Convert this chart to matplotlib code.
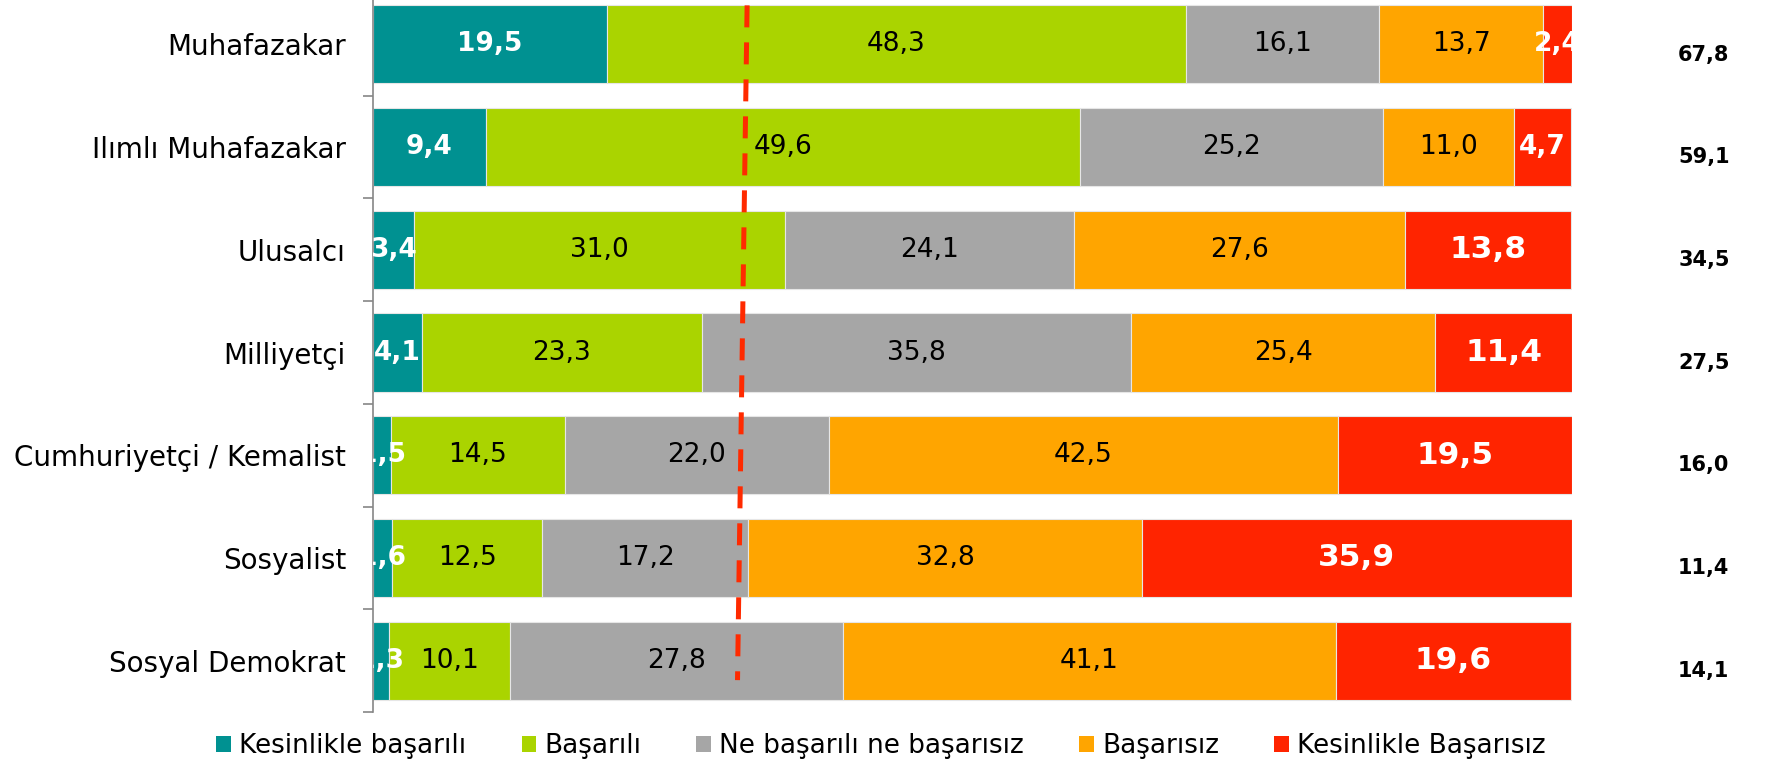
import matplotlib
matplotlib.use("Agg")
import matplotlib.pyplot as plt
from matplotlib.patches import Patch
from matplotlib.transforms import blended_transform_factory
import numpy as np

plt.rcParams['font.family'] = ['DejaVu Sans']

categories = ["Muhafazakar", "Ilımlı Muhafazakar", "Ulusalcı", "Milliyetçi",
              "Cumhuriyetçi / Kemalist", "Sosyalist", "Sosyal Demokrat"]
series_names = ["Kesinlikle başarılı", "Başarılı", "Ne başarılı ne başarısız",
                "Başarısız", "Kesinlikle Başarısız"]
kesinlikle_basarili = [19.5, 9.4, 3.4, 4.1, 1.5, 1.6, 1.3]
basarili = [48.3, 49.6, 31.0, 23.3, 14.5, 12.5, 10.1]
ne_ne = [16.1, 25.2, 24.1, 35.8, 22.0, 17.2, 27.8]
basarisiz = [13.7, 11.0, 27.6, 25.4, 42.5, 32.8, 41.1]
kesinlikle_basarisiz = [2.4, 4.7, 13.8, 11.4, 19.5, 35.9, 19.6]
toplam_basarili = [67.8, 59.1, 34.5, 27.5, 16.0, 11.4, 14.1]
ref_line_x = [31.2, 30.4]  # top, bottom of the dashed reference line

colors = ["#009191", "#aad400", "#a6a6a6", "#ffa500", "#ff2400"]
label_colors = ["white", "black", "black", "black", "white"]

series = [kesinlikle_basarili, basarili, ne_ne, basarisiz, kesinlikle_basarisiz]

fig = plt.figure(figsize=(17.9, 7.64), dpi=100)
ax = fig.add_axes([0.2084, 0.0681, 0.6698, 0.941])

y = np.arange(len(categories))
bar_h = 0.76
left = np.zeros(len(categories))
for i, vals in enumerate(series):
    vals = np.array(vals)
    ax.barh(y, vals, left=left, height=bar_h, color=colors[i],
            edgecolor="#e6e6e6", linewidth=0.8, zorder=2)
    for j, v in enumerate(vals):
        cx = left[j] + v / 2
        txt = f"{v:.1f}".replace(".", ",")
        if i == 0:
            fs, fw = 19, "bold"
        elif i == 4:
            fs, fw = (22.5 if v >= 10 else 19), "bold"
        else:
            fs, fw = 19, "normal"
        ax.text(cx, y[j], txt, ha="center", va="center", fontsize=fs,
                fontweight=fw, color=label_colors[i], clip_on=True, zorder=4)
    left = left + vals

# dashed reference line: from top of first bar to just above bottom of last bar
ax.plot(ref_line_x, [y[0] - bar_h / 2, y[-1] + bar_h / 2 - 0.19],
        color="#ff2a00", lw=3.6, linestyle=(0, (4.4, 3.0)),
        solid_capstyle="butt", dash_capstyle="butt", zorder=3)

ax.set_xlim(0, 100)
ax.set_ylim(len(categories) - 0.5, -0.5)
ax.set_yticks(y)
ax.set_yticklabels(categories, fontsize=20)
ax.set_yticks(np.arange(len(categories) + 1) - 0.5, minor=True)
ax.tick_params(axis="y", which="major", length=0, pad=19.5)
ax.tick_params(axis="y", which="minor", length=7, width=1.2, color="#868686")
ax.xaxis.set_visible(False)
for s in ["top", "right", "bottom"]:
    ax.spines[s].set_visible(False)
ax.spines["left"].set_color("#868686")
ax.spines["left"].set_linewidth(1.2)

trans = blended_transform_factory(ax.transAxes, ax.transData)
for j, v in enumerate(toplam_basarili):
    ax.text(1.11, y[j] + 0.1, f"{v:.1f}".replace(".", ","), transform=trans,
            ha="center", va="center", fontsize=15, fontweight="bold",
            color="black", clip_on=False)

handles = [Patch(facecolor=c, edgecolor="none") for c in colors]
fig.legend(handles, series_names, loc="center", ncol=5,
           bbox_to_anchor=(0.4922, 0.0236), frameon=False, fontsize=18.9,
           handlelength=0.57, handleheight=0.57, handletextpad=0.3,
           columnspacing=2.1, borderaxespad=0, borderpad=0)

fig.savefig("out.png", dpi=100)
